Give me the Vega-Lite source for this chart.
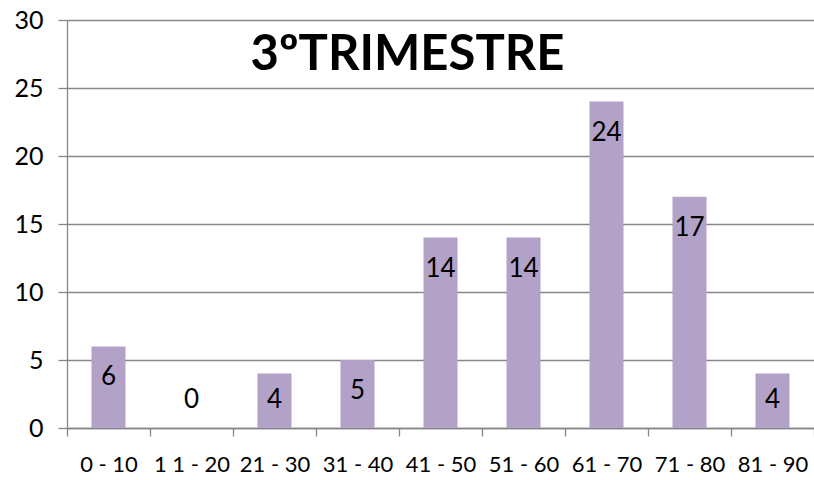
{
  "$schema": "https://vega.github.io/schema/vega-lite/v6.json",
  "autosize": {"type": "none"},
  "padding": {"left": 67, "top": 20, "right": 0, "bottom": 52},
  "width": 747,
  "height": 408,
  "background": "white",
  "config": {
    "view": {"stroke": null},
    "font": "Lato"
  },
  "data": {
    "values": [
      {"rango": "0 - 10", "valor": 6},
      {"rango": "1 1 - 20", "valor": 0},
      {"rango": "21 - 30", "valor": 4},
      {"rango": "31 - 40", "valor": 5},
      {"rango": "41 - 50", "valor": 14},
      {"rango": "51 - 60", "valor": 14},
      {"rango": "61 - 70", "valor": 24},
      {"rango": "71 - 80", "valor": 17},
      {"rango": "81 - 90", "valor": 4}
    ]
  },
  "encoding": {
    "x": {
      "field": "rango",
      "type": "nominal",
      "sort": null,
      "scale": {"paddingInner": 0, "paddingOuter": 0},
      "axis": {
        "title": null,
        "labelAngle": 0,
        "labelFont": "Lato",
        "labelFontSize": 22,
        "labelColor": "#000000",
        "labelPadding": 18,
        "tickBand": "extent",
        "tickSize": 8,
        "tickColor": "#868686",
        "tickWidth": 1.3,
        "domainColor": "#868686",
        "domainWidth": 1.3,
        "grid": false
      }
    }
  },
  "layer": [
    {
      "mark": {"type": "bar", "color": "#b3a2c7", "width": {"band": 0.41}},
      "encoding": {
        "y": {
          "field": "valor",
          "type": "quantitative",
          "scale": {"domain": [0, 30], "nice": false},
          "axis": {
            "title": null,
            "values": [0, 5, 10, 15, 20, 25, 30],
            "labelFont": "Lato",
            "labelFontSize": 25,
            "labelColor": "#000000",
            "labelPadding": 15,
            "tickSize": 9,
            "tickColor": "#868686",
            "tickWidth": 1.3,
            "domainColor": "#868686",
            "domainWidth": 1.3,
            "gridColor": "#868686",
            "gridWidth": 1.3,
            "grid": true
          }
        }
      }
    },
    {
      "transform": [{"filter": "datum.valor >= 5"}],
      "mark": {"type": "text", "font": "Lato", "fontSize": 26, "color": "#000000", "baseline": "middle", "dy": 31},
      "encoding": {
        "y": {"field": "valor", "type": "quantitative"},
        "text": {"field": "valor", "type": "quantitative"}
      }
    },
    {
      "transform": [{"filter": "datum.valor < 5"}],
      "mark": {"type": "text", "font": "Lato", "fontSize": 26, "color": "#000000", "baseline": "middle", "dy": -28},
      "encoding": {
        "y": {"datum": 0, "type": "quantitative"},
        "text": {"field": "valor", "type": "quantitative"}
      }
    },
    {
      "data": {"values": [{"titulo": "3ºTRIMESTRE", "rango": "41 - 50", "nivel": 26.3}]},
      "mark": {"type": "text", "font": "Lato", "fontSize": 49, "fontWeight": "bold", "color": "#000000", "baseline": "alphabetic", "align": "center", "dx": -33},
      "encoding": {
        "x": {"field": "rango", "type": "nominal"},
        "y": {"field": "nivel", "type": "quantitative"},
        "text": {"field": "titulo", "type": "nominal"}
      }
    }
  ]
}
